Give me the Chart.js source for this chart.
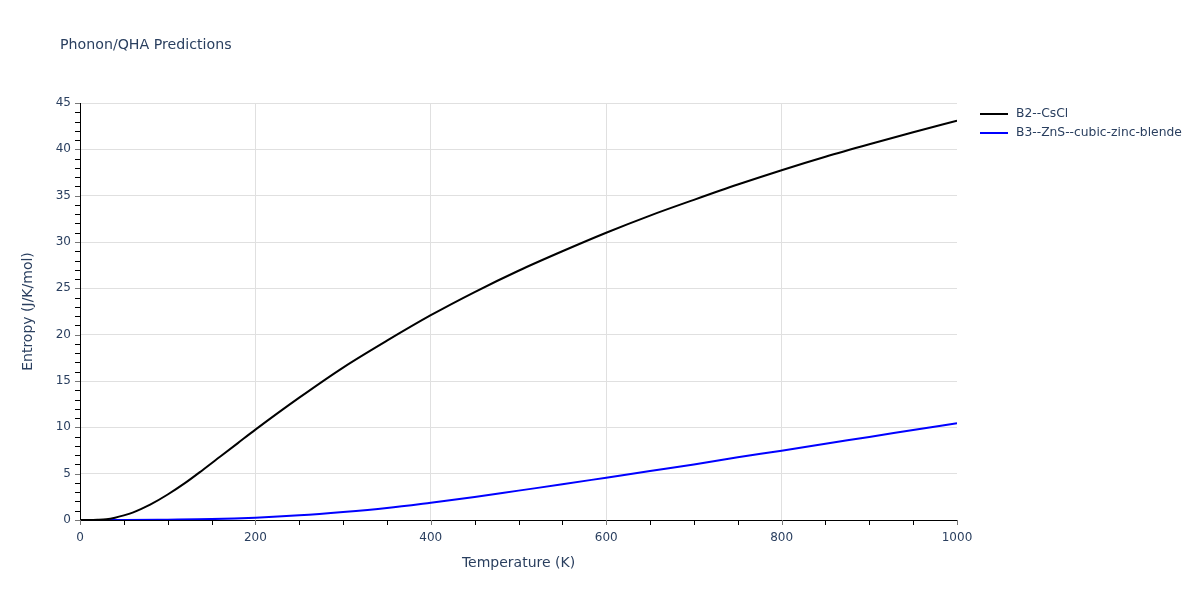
<!DOCTYPE html>
<html>
<head>
<meta charset="utf-8">
<script src="https://cdn.jsdelivr.net/npm/chart.js@4.4.0/dist/chart.umd.min.js"></script>
<style>
html,body{margin:0;padding:0;background:#fff;}
#wrap{position:relative;width:1200px;height:600px;}
</style>
</head>
<body>
<div id="wrap"><canvas id="c" width="1200" height="600"></canvas></div>
<script>
const titleText = "Phonon/QHA Predictions";
const xTitle = "Temperature (K)";
const yTitle = "Entropy (J/K/mol)";
const seriesNames = ["B2--CsCl", "B3--ZnS--cubic-zinc-blende"];
const seriesColors = ["#000000", "#0000ff"];

const tempsB2 = [0, 10, 20, 30, 40, 50, 60, 70, 80, 100, 120, 140, 160, 180, 200, 250, 300, 350, 400, 450, 500, 550, 600, 650, 700, 750, 800, 850, 900, 950, 1000];
const entropyB2 = [0, 0.0, 0.02, 0.08, 0.25, 0.5, 0.8, 1.2, 1.65, 2.75, 4.0, 5.4, 6.85, 8.3, 9.75, 13.2, 16.45, 19.35, 22.1, 24.6, 26.9, 29.0, 31.0, 32.85, 34.55, 36.2, 37.75, 39.2, 40.55, 41.85, 43.1];

const tempsB3 = [0, 50, 100, 150, 200, 250, 300, 350, 400, 450, 500, 550, 600, 650, 700, 750, 800, 850, 900, 950, 1000];
const entropyB3 = [0, 0.0, 0.04, 0.1, 0.25, 0.5, 0.86, 1.3, 1.87, 2.48, 3.17, 3.85, 4.57, 5.29, 6.0, 6.76, 7.48, 8.23, 8.96, 9.71, 10.45];

const xTickStep = 200, xMinorStep = 50, xMin = 0, xMax = 1000;
const yTickStep = 5, yMinorStep = 1, yMin = 0, yMax = 45;

const fontFam = '"DejaVu Sans", Verdana, sans-serif';
const txtColor = '#2a3f5f';

const overlay = {
  id: 'overlay',
  afterDraw(chart) {
    const ctx = chart.ctx;
    const xs = chart.scales.x, ys = chart.scales.y;
    const area = chart.chartArea;
    ctx.save();
    ctx.lineWidth = 1;
    for (let v = xMin; v <= xMax; v += xMinorStep) {
      const px = Math.round(xs.getPixelForValue(v)) + 0.5;
      ctx.strokeStyle = (v % xTickStep === 0) ? '#777' : '#000';
      ctx.beginPath(); ctx.moveTo(px, area.bottom); ctx.lineTo(px, area.bottom + 5); ctx.stroke();
    }
    for (let v = yMin; v <= yMax; v += yMinorStep) {
      const py = Math.round(ys.getPixelForValue(v)) + 0.5;
      ctx.strokeStyle = (v % yTickStep === 0) ? '#777' : '#000';
      ctx.beginPath(); ctx.moveTo(area.left - 5, py); ctx.lineTo(area.left, py); ctx.stroke();
    }
    ctx.fillStyle = txtColor;
    ctx.font = '14.2px ' + fontFam;
    ctx.textBaseline = 'middle';
    ctx.textAlign = 'left';
    ctx.fillText(titleText, 60, 45);
    ctx.font = '12.3px ' + fontFam;
    seriesNames.forEach((n, i) => {
      const y = 114 + i * 19;
      ctx.strokeStyle = seriesColors[i];
      ctx.lineWidth = 2;
      ctx.beginPath(); ctx.moveTo(980, y); ctx.lineTo(1008, y); ctx.stroke();
      ctx.fillStyle = txtColor;
      ctx.fillText(n, 1016, y);
    });
    ctx.restore();
  }
};

function pts(xs, ys) { return xs.map((x, i) => ({x: x, y: ys[i]})); }

new Chart(document.getElementById('c'), {
  type: 'line',
  data: {
    datasets: [
      {label: seriesNames[0], data: pts(tempsB2, entropyB2), borderColor: seriesColors[0], borderWidth: 2, pointRadius: 0, cubicInterpolationMode: 'monotone', fill: false},
      {label: seriesNames[1], data: pts(tempsB3, entropyB3), borderColor: seriesColors[1], borderWidth: 2, pointRadius: 0, cubicInterpolationMode: 'monotone', fill: false}
    ]
  },
  options: {
    responsive: false,
    animation: false,
    events: [],
    layout: {padding: {left: 16, top: 103, right: 243, bottom: 24.6}},
    plugins: {legend: {display: false}, title: {display: false}, tooltip: {enabled: false}},
    scales: {
      x: {
        type: 'linear', min: xMin, max: xMax,
        afterFit(s) { s.height = 55.4; },
        grid: {color: c => (c.tick && c.tick.value === xMax) ? 'rgba(0,0,0,0)' : '#e0e0e0', drawTicks: false},
        border: {color: '#000', width: 1},
        ticks: {stepSize: xTickStep, padding: 11, color: txtColor, font: {family: fontFam, size: 12}, callback: v => String(v)},
        title: {display: true, text: xTitle, color: txtColor, font: {family: fontFam, size: 14}}
      },
      y: {
        type: 'linear', min: yMin, max: yMax,
        afterFit(s) { s.width = 64; },
        grid: {color: '#e0e0e0', drawTicks: false},
        border: {color: '#000', width: 1},
        ticks: {stepSize: yTickStep, padding: 9, color: txtColor, font: {family: fontFam, size: 12}, callback: v => String(v)},
        title: {display: true, text: yTitle, color: txtColor, font: {family: fontFam, size: 14}}
      }
    }
  },
  plugins: [overlay]
});
</script>
</body>
</html>
